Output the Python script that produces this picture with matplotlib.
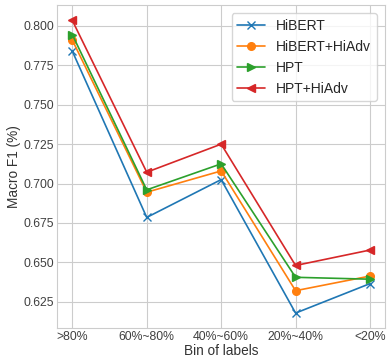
import matplotlib
matplotlib.use('Agg')
import seaborn as sns
from matplotlib import pyplot as plt

sns.set_style('whitegrid')
plt.rcParams['font.family'] = ['Liberation Sans', 'DejaVu Sans']

bins = ['>80%', '60%~80%', '40%~60%', '20%~40%', '<20%']
hibert = [0.784, 0.6785, 0.7025, 0.6178, 0.6365]
hibert_hiadv = [0.791, 0.6945, 0.708, 0.632, 0.6413]
hpt = [0.7945, 0.696, 0.7125, 0.6405, 0.6393]
hpt_hiadv = [0.8035, 0.7072, 0.725, 0.648, 0.6578]

fig = plt.figure(figsize=(3.88, 3.57), dpi=100)
ax = fig.add_subplot(1, 1, 1)
x = range(len(bins))
kw = dict(linewidth=1.2, markersize=5.5)
ax.plot(x, hibert, marker='x', label='HiBERT', **kw)
ax.plot(x, hibert_hiadv, marker='o', label='HiBERT+HiAdv', **kw)
ax.plot(x, hpt, marker='>', label='HPT', **kw)
ax.plot(x, hpt_hiadv, marker='<', label='HPT+HiAdv', **kw)
ax.set_xticks(list(x))
ax.set_xticklabels(bins)
ax.tick_params(labelsize=8.8, colors='.25', length=0, pad=2.5)
ax.set_ylim(0.6085, 0.8133)
ax.set_xlabel('Bin of labels', fontsize=9.8, labelpad=0.5, color='.2')
ax.set_ylabel('Macro F1 (%)', fontsize=9.8, labelpad=1.5, color='.2')
ax.legend(loc='upper right', frameon=True, fontsize=10, borderaxespad=0.6)
fig.subplots_adjust(left=0.148, right=0.992, top=0.986, bottom=0.082)
fig.savefig('out.png', dpi=100)
